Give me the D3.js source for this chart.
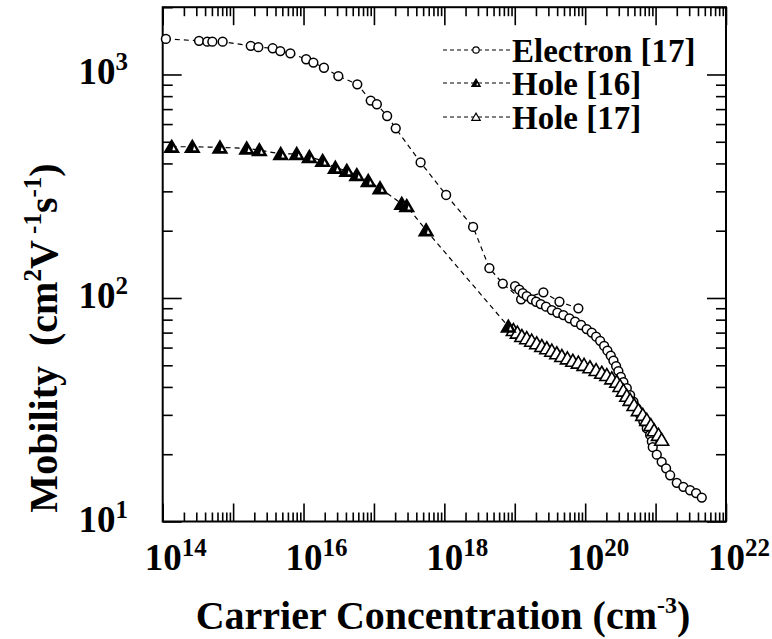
<!DOCTYPE html>
<html>
<head>
<meta charset="utf-8">
<script src="https://cdn.jsdelivr.net/npm/d3@7"></script>
<style>
  body { margin: 0; background: #fff; }
  text { font-family: "Liberation Serif", "Times New Roman", serif; font-weight: bold; fill: #000; }
</style>
</head>
<body>
<svg id="chart" width="772" height="639"></svg>
<script>
// Electron [17]: low-doping sequence (joined by a dashed line)
const electronN  = [1.11e14, 3.28e14, 4.3e14, 5.07e14, 7.1e14, 1.78e15, 2.28e15, 3.65e15, 4.68e15, 6.5e15,
                    1.09e16, 1.38e16, 1.95e16, 3.12e16, 5.8e16, 9.0e16, 1.1e17, 1.54e17, 2.04e17, 4.6e17,
                    1.06e18, 2.56e18, 4.36e18, 6.76e18, 1.23e19, 2.55e19, 4.31e19, 8.0e19];
const electronMu = [1442, 1415, 1402, 1402, 1402, 1343, 1325, 1310, 1273, 1244,
                    1170, 1130, 1072, 984, 904, 764, 736, 652, 574, 404,
                    289, 208, 136, 116, 98.6, 106, 96.2, 89.9];
// Electron [17]: heavily doped set
const electronHighN  = [1.01e19, 1.16e19, 1.30e19, 1.48e19, 1.74e19, 2.01e19, 2.34e19, 2.78e19, 3.36e19, 4.03e19,
                        4.90e19, 5.97e19, 7.19e19, 8.75e19, 1.05e20, 1.24e20, 1.43e20, 1.63e20, 1.86e20, 2.07e20,
                        2.31e20, 2.52e20, 2.75e20, 2.96e20, 3.21e20, 3.49e20, 3.90e20, 4.35e20, 4.84e20, 5.41e20,
                        6.03e20, 6.71e20, 7.50e20, 8.36e20, 8.84e20, 9.12e20, 1.04e21, 1.22e21, 1.41e21, 1.61e21,
                        2.00e21, 2.48e21, 3.09e21, 3.76e21, 4.53e21];
const electronHighMu = [113, 109, 105, 102, 98.6, 96.2, 93.9, 91.4, 88.3, 85.9,
                        83.9, 81.1, 78.3, 75.7, 72.6, 70.0, 67.1, 64.3, 61.0, 58.1,
                        55.2, 52.4, 49.6, 47.1, 44.4, 42.0, 39.5, 36.8, 34.4, 32.1,
                        30.0, 28.0, 26.1, 24.4, 22.8, 21.5, 19.9, 18.5, 17.3, 16.1,
                        14.9, 14.3, 13.8, 13.4, 12.8];
// Hole [16]
const hole16N  = [1.34e14, 2.63e14, 6.5e14, 1.56e15, 2.36e15, 4.74e15, 8.0e15, 1.21e16, 1.87e16, 2.83e16,
                  4.11e16, 5.7e16, 8.3e16, 1.22e17, 2.48e17, 2.92e17, 5.5e17, 8.1e18];
const hole16Mu = [475, 475, 472, 467, 459, 441, 441, 428, 411, 383,
                  371, 355, 334, 310, 264, 258, 201, 74.5];
// Hole [17]
const hole17N  = [9.55e18, 1.09e19, 1.26e19, 1.48e19, 1.74e19, 2.05e19, 2.42e19, 2.85e19, 3.36e19, 3.95e19,
                  4.66e19, 5.59e19, 6.67e19, 8.0e19, 9.64e19, 1.17e20, 1.43e20, 1.72e20, 2.03e20, 2.39e20,
                  2.81e20, 3.13e20, 3.49e20, 3.90e20, 4.35e20, 4.95e20, 5.70e20, 6.58e20, 7.50e20, 8.55e20,
                  9.53e20, 1.10e21, 1.22e21];
const hole17Mu = [71.9, 70.0, 67.6, 66.1, 64.4, 62.7, 61.0, 59.6, 58.1, 56.6,
                  55.0, 53.7, 52.4, 51.4, 50.2, 49.0, 47.6, 46.3, 45.2, 43.7,
                  42.2, 40.4, 38.5, 36.5, 35.0, 33.2, 31.5, 30.0, 28.5, 27.0,
                  25.6, 24.4, 23.2];

// Axis ranges and labels
const xDomain = [1e14, 1e22];
const yDomain = [10, 2000];
const xLabelExponents = ["14", "16", "18", "20", "22"];
const yLabelExponents = ["1", "2", "3"];
const legendLabels = ["Electron [17]", "Hole [16]", "Hole [17]"];
const xTitle = "Carrier Concentration (cm";
const yTitle = "Mobility\u00a0 (cm";

const svg = d3.select("#chart");
const L = 162.7, R = 726, T = 7.2, B = 521.5;

const x = d3.scaleLog().domain(xDomain).range([L, R]);
const y = d3.scaleLog().domain(yDomain).range([B, T]);

// tick positions: decades are major, 2..9 multiples are minor
const xMajor = d3.range(14, 23).map(e => Math.pow(10, e));
const xMinor = [];
for (let e = 14; e < 22; e++) for (let m = 2; m <= 9; m++) xMinor.push(m * Math.pow(10, e));
const yMajor = [10, 100, 1000];
const yMinor = [];
for (let e = 1; e < 4; e++) for (let m = 2; m <= 9; m++) { const v = m * Math.pow(10, e); if (v <= 2000) yMinor.push(v); }

function drawAxis(axisFn, scale, values, size, transform) {
  const g = svg.append("g").attr("transform", transform)
    .call(axisFn(scale).tickValues(values).tickSize(size).tickSizeOuter(0).tickFormat(""));
  g.select(".domain").remove();
  g.selectAll(".tick line").attr("stroke", "#000").attr("stroke-width", 1.6);
  return g;
}
// inward ticks on all four sides
drawAxis(d3.axisBottom, x, xMajor, -18, `translate(0,${B})`);
drawAxis(d3.axisBottom, x, xMinor, -9, `translate(0,${B})`);
drawAxis(d3.axisTop, x, xMajor, -18, `translate(0,${T})`);
drawAxis(d3.axisTop, x, xMinor, -9, `translate(0,${T})`);
drawAxis(d3.axisLeft, y, yMajor, -19, `translate(${L},0)`);
drawAxis(d3.axisLeft, y, yMinor, -10, `translate(${L},0)`);
drawAxis(d3.axisRight, y, yMajor, -19, `translate(${R},0)`);
drawAxis(d3.axisRight, y, yMinor, -10, `translate(${R},0)`);

svg.append("rect").attr("x", L).attr("y", T).attr("width", R - L).attr("height", B - T)
  .attr("fill", "none").attr("stroke", "#000").attr("stroke-width", 2);

// tick labels with superscript exponents
xLabelExponents.forEach(ex => {
  const t = svg.append("text").attr("x", x(Math.pow(10, +ex)) + 13).attr("y", 570)
    .attr("text-anchor", "middle").style("font-size", "37px");
  t.append("tspan").text("10");
  t.append("tspan").attr("dy", -14).style("font-size", "25px").text(ex);
});
yLabelExponents.forEach(ex => {
  const t = svg.append("text").attr("x", 128).attr("y", y(Math.pow(10, +ex)) + 10)
    .attr("text-anchor", "end").style("font-size", "37px");
  t.append("tspan").text("10");
  t.append("tspan").attr("dy", -14).style("font-size", "25px").text(ex);
});

// axis titles
const xt = svg.append("text").attr("x", 443).attr("y", 629).attr("text-anchor", "middle").style("font-size", "40px");
xt.append("tspan").text(xTitle);
xt.append("tspan").attr("dy", -16).style("font-size", "24px").text("-3");
xt.append("tspan").attr("dy", 16).text(")");

const yt = svg.append("text").attr("transform", "translate(57,338) rotate(-90)")
  .attr("text-anchor", "middle").style("font-size", "40px");
yt.append("tspan").text(yTitle);
yt.append("tspan").attr("dy", -16).style("font-size", "25px").text("2");
yt.append("tspan").attr("dy", 16).text("V");
yt.append("tspan").attr("dy", -16).style("font-size", "25px").text("\u00a0-1");
yt.append("tspan").attr("dy", 16).text("s");
yt.append("tspan").attr("dy", -16).style("font-size", "25px").text("-1");
yt.append("tspan").attr("dy", 16).text(")");

// series
const pts = (N, M) => N.map((n, i) => [n, M[i]]);
const line = d3.line().x(d => x(d[0])).y(d => y(d[1]));
const dashStyle = g => g.attr("fill", "none").attr("stroke", "#000").attr("stroke-width", 1.2).attr("stroke-dasharray", "5,4");

const elA = pts(electronN, electronMu);
const elB = pts(electronHighN, electronHighMu);
const h16 = pts(hole16N, hole16Mu);
const h17 = pts(hole17N, hole17Mu);

svg.append("path").datum(elA).attr("d", line).call(dashStyle);
svg.append("path").datum(elB).attr("d", line).call(dashStyle);
svg.append("path").datum(h16).attr("d", line).call(dashStyle);
svg.append("path").datum(h17).attr("d", line).call(dashStyle);

const triPath = s => `M0,${-6.5 * s}L${7 * s},${5.5 * s}L${-7 * s},${5.5 * s}Z`;
const notchPath = s => `M${1.8 * s},${-0.4 * s}L${4 * s},${3.6 * s}L${0.7 * s},${3.6 * s}Z`;

function circles(data, r) {
  svg.append("g").selectAll("circle").data(data).join("circle")
    .attr("cx", d => x(d[0])).attr("cy", d => y(d[1])).attr("r", r)
    .attr("fill", "#fff").attr("stroke", "#000").attr("stroke-width", 1.5);
}
function openTriangles(data) {
  svg.append("g").selectAll("path").data(data).join("path")
    .attr("transform", d => `translate(${x(d[0])},${y(d[1])})`)
    .attr("d", triPath(1)).attr("fill", "#fff").attr("stroke", "#000").attr("stroke-width", 1.6);
}
function filledTriangles(data) {
  const g = svg.append("g").selectAll("g").data(data).join("g")
    .attr("transform", d => `translate(${x(d[0])},${y(d[1])})`);
  g.append("path").attr("d", triPath(1)).attr("fill", "#000").attr("stroke", "#000").attr("stroke-width", 1.6);
  g.append("path").attr("d", notchPath(1)).attr("fill", "#fff");
}

circles(elA, 4.4);
circles(elB, 4.4);
openTriangles(h17);
filledTriangles(h16);

// legend
const legendY = [50, 83, 117];
legendY.forEach((ly, i) => {
  svg.append("line").attr("x1", 443).attr("x2", 510).attr("y1", ly).attr("y2", ly)
    .attr("stroke", "#000").attr("stroke-width", 1).attr("stroke-dasharray", "4,3");
  if (i === 0) {
    svg.append("circle").attr("cx", 476).attr("cy", ly).attr("r", 3.2)
      .attr("fill", "#fff").attr("stroke", "#000").attr("stroke-width", 1.2);
  } else if (i === 1) {
    const g = svg.append("g").attr("transform", `translate(476,${ly})`);
    g.append("path").attr("d", triPath(0.6)).attr("fill", "#000").attr("stroke", "#000").attr("stroke-width", 1.2);
    g.append("path").attr("d", notchPath(0.6)).attr("fill", "#fff");
  } else {
    svg.append("path").attr("transform", `translate(476,${ly})`).attr("d", triPath(0.6))
      .attr("fill", "#fff").attr("stroke", "#000").attr("stroke-width", 1.2);
  }
  svg.append("text").attr("x", 512).attr("y", ly + 12).style("font-size", "33px").text(legendLabels[i]);
});
</script>
</body>
</html>
